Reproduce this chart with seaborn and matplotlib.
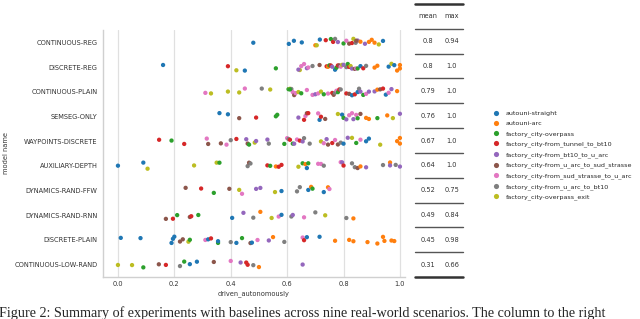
import numpy as np
import pandas as pd
import seaborn as sns
from matplotlib import pyplot as plt

# scenario names (hue), index used in the per-model lists below
scenarios = ["autouni-straight", "autouni-arc", "factory_city-overpass",
             "factory_city-from_tunnel_to_bt10", "factory_city-from_bt10_to_u_arc",
             "factory_city-from_u_arc_to_sud_strasse", "factory_city-from_sud_strasse_to_u_arc",
             "factory_city-from_u_arc_to_bt10", "factory_city-overpass_exit"]

models = ["CONTINUOUS-REG", "DISCRETE-REG", "CONTINUOUS-PLAIN", "SEMSEG-ONLY",
          "WAYPOINTS-DISCRETE", "AUXILIARY-DEPTH", "DYNAMICS-RAND-FFW",
          "DYNAMICS-RAND-RNN", "DISCRETE-PLAIN", "CONTINUOUS-LOW-RAND"]

mean_col = ["0.8", "0.8", "0.79", "0.76", "0.67", "0.64", "0.52", "0.49", "0.45", "0.31"]
max_col = ["0.94", "1.0", "1.0", "1.0", "1.0", "1.0", "0.75", "0.84", "0.98", "0.66"]

# (scenario index, driven_autonomously)
continuous_reg = [(0, 0.48), (0, 0.606), (0, 0.624), (0, 0.652), (1, 0.70), (8, 0.705), (0, 0.716),
                  (3, 0.737), (2, 0.755), (3, 0.763), (7, 0.77), (4, 0.78), (2, 0.80), (6, 0.81),
                  (5, 0.82), (3, 0.83), (8, 0.835), (7, 0.843), (4, 0.85), (1, 0.86), (5, 0.845),
                  (4, 0.876), (1, 0.89), (1, 0.90), (1, 0.91), (8, 0.925), (0, 0.94)]
discrete_reg = [(0, 0.16), (3, 0.39), (8, 0.42), (0, 0.45), (2, 0.56), (8, 0.645), (4, 0.64), (6, 0.65),
                (6, 0.66), (4, 0.67), (6, 0.675), (7, 0.69), (5, 0.715), (3, 0.74), (1, 0.745), (2, 0.75),
                (3, 0.755), (4, 0.76), (0, 0.77), (2, 0.775), (3, 0.78), (5, 0.785), (6, 0.79), (8, 0.795),
                (4, 0.80), (7, 0.81), (2, 0.815), (3, 0.82), (8, 0.825), (4, 0.83), (5, 0.84), (6, 0.845),
                (2, 0.85), (0, 0.86), (3, 0.87), (7, 0.88), (1, 0.91), (1, 0.92), (0, 0.96), (8, 0.97),
                (0, 0.98), (1, 0.99), (1, 1.0), (1, 1.0)]
continuous_plain = [(6, 0.31), (8, 0.33), (8, 0.39), (8, 0.43), (6, 0.45), (7, 0.51), (8, 0.54), (2, 0.605),
                    (8, 0.61), (7, 0.615), (6, 0.62), (2, 0.61), (5, 0.625), (6, 0.63), (8, 0.64), (2, 0.65),
                    (6, 0.67), (6, 0.69), (4, 0.70), (6, 0.71), (8, 0.72), (2, 0.73), (6, 0.745), (3, 0.76),
                    (5, 0.765), (7, 0.77), (6, 0.775), (2, 0.78), (3, 0.785), (7, 0.79), (3, 0.81), (5, 0.82),
                    (0, 0.83), (3, 0.84), (0, 0.85), (7, 0.855), (4, 0.86), (2, 0.87), (6, 0.88), (4, 0.89),
                    (4, 0.91), (1, 0.92), (5, 0.93), (3, 0.94), (0, 0.95), (6, 0.96), (4, 0.97), (1, 0.99)]
semseg_only = [(0, 0.36), (0, 0.39), (5, 0.43), (3, 0.49), (2, 0.56), (2, 0.565), (4, 0.64), (3, 0.66),
               (6, 0.665), (5, 0.67), (3, 0.675), (6, 0.71), (0, 0.715), (3, 0.72), (5, 0.735), (8, 0.78),
               (0, 0.795), (2, 0.80), (4, 0.81), (6, 0.82), (6, 0.83), (4, 0.835), (6, 0.845), (2, 0.85),
               (5, 0.86), (1, 0.88), (1, 0.89), (2, 0.92), (1, 0.955), (8, 0.975), (4, 1.0)]
waypoints_discrete = [(3, 0.146), (2, 0.19), (3, 0.235), (6, 0.315), (5, 0.32), (5, 0.365), (6, 0.385),
                      (7, 0.40), (3, 0.42), (4, 0.455), (5, 0.46), (2, 0.465), (8, 0.485), (4, 0.49),
                      (4, 0.53), (7, 0.535), (2, 0.59), (6, 0.60), (7, 0.605), (2, 0.62), (4, 0.625),
                      (3, 0.61), (6, 0.635), (3, 0.645), (4, 0.655), (7, 0.66), (7, 0.68), (8, 0.72),
                      (6, 0.73), (4, 0.74), (5, 0.745), (3, 0.76), (6, 0.77), (5, 0.78), (7, 0.79),
                      (0, 0.80), (4, 0.815), (8, 0.83), (2, 0.845), (6, 0.86), (0, 0.88), (0, 0.89),
                      (8, 0.93), (1, 0.99), (1, 1.0), (1, 1.0)]
auxiliary_depth = [(0, 0.0), (0, 0.09), (8, 0.105), (8, 0.27), (8, 0.35), (2, 0.36), (7, 0.46), (5, 0.465),
                   (7, 0.47), (3, 0.53), (2, 0.54), (1, 0.56), (3, 0.57), (3, 0.58), (8, 0.64), (2, 0.655),
                   (1, 0.665), (0, 0.67), (2, 0.675), (6, 0.71), (6, 0.72), (7, 0.73), (6, 0.79), (4, 0.795),
                   (3, 0.80), (7, 0.83), (7, 0.84), (5, 0.85), (1, 0.86), (4, 0.88), (7, 0.94), (1, 0.965),
                   (4, 0.965), (7, 0.985), (4, 1.0)]
dynamics_rand_ffw = [(5, 0.24), (3, 0.295), (2, 0.34), (5, 0.395), (8, 0.43), (6, 0.44), (4, 0.49),
                     (4, 0.505), (8, 0.557), (0, 0.58), (7, 0.635), (7, 0.645), (0, 0.675), (1, 0.685),
                     (2, 0.69), (0, 0.73), (1, 0.745), (6, 0.75)]
dynamics_rand_rnn = [(5, 0.17), (3, 0.195), (2, 0.21), (5, 0.255), (3, 0.26), (2, 0.285), (0, 0.405),
                     (4, 0.445), (7, 0.48), (1, 0.505), (8, 0.545), (6, 0.57), (0, 0.58), (7, 0.615),
                     (4, 0.62), (6, 0.66), (7, 0.70), (8, 0.735), (7, 0.81), (1, 0.835)]
discrete_plain = [(0, 0.01), (0, 0.08), (0, 0.19), (0, 0.195), (0, 0.20), (5, 0.22), (5, 0.23), (8, 0.25),
                  (2, 0.255), (6, 0.31), (0, 0.32), (3, 0.33), (2, 0.355), (0, 0.355), (7, 0.40), (0, 0.42),
                  (2, 0.44), (5, 0.47), (0, 0.475), (6, 0.495), (4, 0.535), (1, 0.55), (7, 0.59), (6, 0.655),
                  (3, 0.66), (0, 0.67), (0, 0.715), (1, 0.77), (1, 0.82), (1, 0.835), (1, 0.885), (1, 0.92),
                  (1, 0.94), (1, 0.945), (1, 0.97), (1, 0.98)]
continuous_low_rand = [(8, 0.0), (8, 0.05), (2, 0.09), (5, 0.145), (3, 0.17), (7, 0.22), (2, 0.235),
                       (0, 0.255), (0, 0.28), (5, 0.34), (6, 0.40), (4, 0.435), (3, 0.455), (3, 0.46),
                       (7, 0.48), (1, 0.50), (4, 0.655)]

runs = [continuous_reg, discrete_reg, continuous_plain, semseg_only, waypoints_discrete,
        auxiliary_depth, dynamics_rand_ffw, dynamics_rand_rnn, discrete_plain, continuous_low_rand]

rows = []
for m, r in zip(models, runs):
    for s, v in r:
        rows.append({"model name": m, "scenario": scenarios[s], "driven_autonomously": v})
df = pd.DataFrame(rows)

sns.set_style("whitegrid")
np.random.seed(3)  # jitter only

W, H = 640, 319
fig = plt.figure(figsize=(6.4, 3.19), dpi=100)
ax = fig.add_axes([103 / W, 42 / H, 302 / W, 247 / H])

sns.stripplot(data=df, x="driven_autonomously", y="model name", hue="scenario",
              order=models, hue_order=scenarios, palette="tab10", size=3.1,
              jitter=0.15, linewidth=0, ax=ax)

ax.set_xlim(-0.053, 1.018)
ax.set_ylim(9.5, -0.5)
ax.set_xticks([0.0, 0.2, 0.4, 0.6, 0.8, 1.0])
ax.grid(axis="x", color="#e0e0e0", lw=0.9)
ax.grid(axis="y", visible=False)
sns.despine(ax=ax)
for sp in ["left", "bottom"]:
    ax.spines[sp].set_color("#d0d0d0")
    ax.spines[sp].set_linewidth(1.0)
ax.tick_params(axis="both", length=0, labelsize=4.8, colors="#333333")
ax.tick_params(axis="y", pad=4)
ax.tick_params(axis="x", pad=3)
ax.set_xlabel("driven_autonomously", fontsize=4.8, color="#333333", labelpad=2)
ax.set_ylabel("model name", fontsize=4.8, color="#333333", labelpad=4)

handles, labels = ax.get_legend_handles_labels()
ax.get_legend().remove()
fig.legend(handles, labels, loc="upper left", bbox_to_anchor=(487 / W, 1 - 108 / H),
           frameon=False, fontsize=4.6, markerscale=1.2, handletextpad=0.5,
           labelspacing=0.7, borderaxespad=0)

# table with mean / max
tax = fig.add_axes([415 / W, 42 / H, 48 / W, 273 / H])
tax.set_xlim(0, 1)
tax.set_ylim(9.5, -1.5)
tax.axis("off")
tax.text(0.27, -1.0, "mean", ha="center", va="center", fontsize=4.8, color="#333333")
tax.text(0.77, -1.0, "max", ha="center", va="center", fontsize=4.8, color="#333333")
for i in range(len(models)):
    tax.text(0.27, i, mean_col[i], ha="center", va="center", fontsize=4.8, color="#333333")
    tax.text(0.77, i, max_col[i], ha="center", va="center", fontsize=4.8, color="#333333")
    tax.plot([0, 1], [i - 0.5, i - 0.5], color="#555555", lw=1.0, clip_on=False)
tax.plot([0, 1], [-1.5, -1.5], color="#333333", lw=1.8, clip_on=False)
tax.plot([0, 1], [9.5, 9.5], color="#333333", lw=1.8, clip_on=False)

fig.text(-0.002, 1.5 / H, "Figure 2: Summary of experiments with baselines across nine real-world scenarios. "
         "The column to the right", fontsize=10.2, family="Liberation Serif", ha="left", va="baseline")

fig.savefig("out.png", dpi=100)
